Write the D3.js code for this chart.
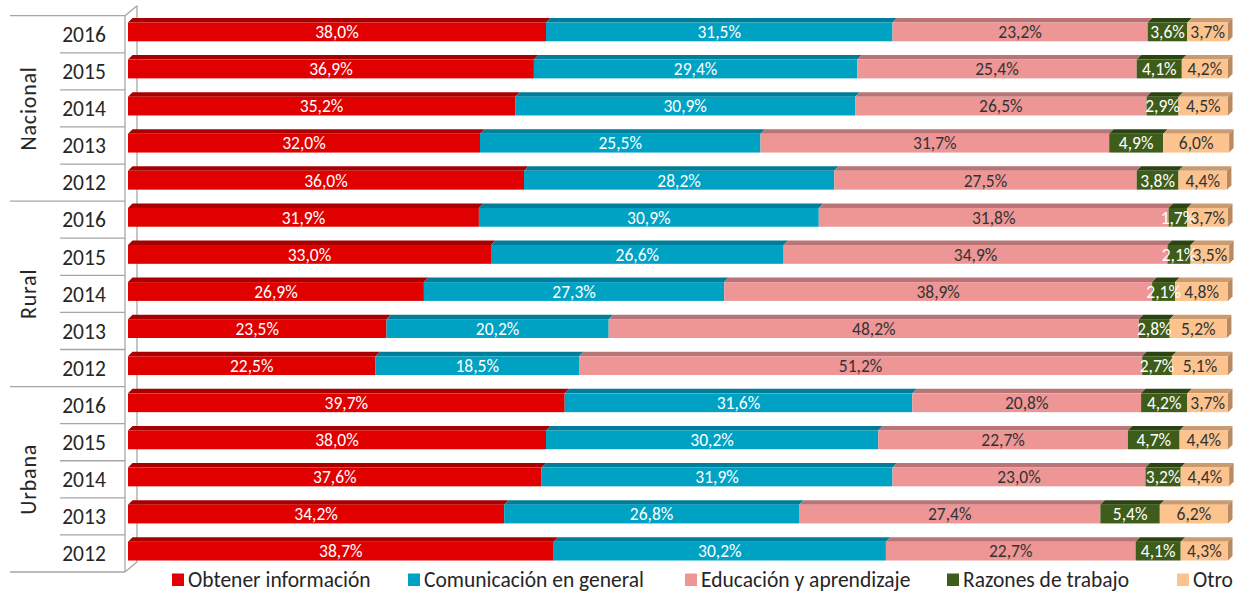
<!DOCTYPE html>
<html>
<head>
<meta charset="utf-8">
<script src="https://cdn.jsdelivr.net/npm/d3@7"></script>
<style>
  body { margin: 0; background: #fff; }
  text { font-family: Carlito, "Open Sans", sans-serif; }
</style>
</head>
<body>
<script>
// data
var groups = ["Nacional", "Rural", "Urbana"];
var years = ["2016", "2015", "2014", "2013", "2012"];
var seriesNames = ["Obtener información", "Comunicación en general", "Educación y aprendizaje", "Razones de trabajo", "Otro"];
var obtener      = [38.0, 36.9, 35.2, 32.0, 36.0, 31.9, 33.0, 26.9, 23.5, 22.5, 39.7, 38.0, 37.6, 34.2, 38.7];
var comunicacion = [31.5, 29.4, 30.9, 25.5, 28.2, 30.9, 26.6, 27.3, 20.2, 18.5, 31.6, 30.2, 31.9, 26.8, 30.2];
var educacion    = [23.2, 25.4, 26.5, 31.7, 27.5, 31.8, 34.9, 38.9, 48.2, 51.2, 20.8, 22.7, 23.0, 27.4, 22.7];
var trabajo      = [3.6, 4.1, 2.9, 4.9, 3.8, 1.7, 2.1, 2.1, 2.8, 2.7, 4.2, 4.7, 3.2, 5.4, 4.1];
var otro         = [3.7, 4.2, 4.5, 6.0, 4.4, 3.7, 3.5, 4.8, 5.2, 5.1, 3.7, 4.4, 4.4, 6.2, 4.3];

var colors = ["#e00000", "#00a2c4", "#ee9696", "#3e5c1a", "#fcc38e"];
var topColors = ["#a80000", "#007d98", "#b97575", "#2c4312", "#c99b6f"];
var sideColor = "#b98a62";
var labelColors = ["#fff", "#fff", "#333", "#fff", "#333"];

main();

function main() {
  setupCanvasSize();
  appendSvg("body");
  buildRows();
  setupScales();
  drawAxisFrame();
  drawBars();
  drawLegend();
}

function setupCanvasSize() {
  width = 1236;
  height = 592;
  depth = 4.5;
}

function appendSvg(domElement) {
  svg = d3.select(domElement).append("svg")
    .attr("width", width)
    .attr("height", height);
}

function buildRows() {
  var values = [obtener, comunicacion, educacion, trabajo, otro];
  rows = [];
  groups.forEach(function (g, gi) {
    years.forEach(function (yr, yi) {
      var i = gi * years.length + yi;
      var x0 = 0;
      var segs = values.map(function (arr, s) {
        var seg = { s: s, x0: x0, x1: x0 + arr[i], v: arr[i] };
        x0 += arr[i];
        return seg;
      });
      rows.push({ key: g + "-" + yr, group: g, year: yr, segs: segs });
    });
  });
}

function setupScales() {
  x = d3.scaleLinear().domain([0, 100]).range([128, 1228]);
  y = d3.scaleBand().domain(rows.map(function (d) { return d.key; }))
    .range([15.7, 572]).paddingInner(0).paddingOuter(0);
}

function drawAxisFrame() {
  var g = svg.append("g").attr("stroke", "#a6a6a6").attr("stroke-width", 1.3).attr("fill", "none");
  var top = y.range()[0], bottom = y.range()[1];
  // wall lines
  g.append("line").attr("x1", 125).attr("x2", 125).attr("y1", top).attr("y2", bottom);
  g.append("line").attr("x1", 137).attr("x2", 137).attr("y1", top - 10).attr("y2", bottom - 10);
  g.append("line").attr("x1", 125).attr("x2", 137).attr("y1", top).attr("y2", top - 10);
  g.append("line").attr("x1", 125).attr("x2", 137).attr("y1", bottom).attr("y2", bottom - 10);

  // category separators
  rows.forEach(function (d, i) {
    var yy = y(d.key);
    var isGroup = i % years.length === 0;
    g.append("line").attr("x1", isGroup ? 10 : 60).attr("x2", 125).attr("y1", yy).attr("y2", yy);
  });
  g.append("line").attr("x1", 10).attr("x2", 125).attr("y1", bottom).attr("y2", bottom);

  // year labels
  svg.append("g").selectAll("text")
    .data(rows)
    .enter().append("text")
    .attr("x", 84)
    .attr("y", function (d) { return y(d.key) + y.bandwidth() / 2; })
    .attr("dy", "0.36em")
    .attr("text-anchor", "middle")
    .style("font-size", "21.5px")
    .style("fill", "#262626")
    .text(function (d) { return d.year; });

  // group labels
  var span = y.bandwidth() * years.length;
  svg.append("g").selectAll("text")
    .data(groups)
    .enter().append("text")
    .attr("transform", function (d, i) {
      return "translate(28," + (y.range()[0] + span * i + span / 2) + ") rotate(-90)";
    })
    .attr("dy", "0.36em")
    .attr("text-anchor", "middle")
    .style("font-size", "22px")
    .style("letter-spacing", "0.8px")
    .style("fill", "#262626")
    .text(function (d) { return d; });
}

function drawBars() {
  var frontOff = 6.8, frontH = 18.8;
  var bars = svg.append("g").selectAll("g")
    .data(rows)
    .enter().append("g")
    .attr("transform", function (d) { return "translate(0," + (y(d.key) + frontOff) + ")"; });

  // top faces
  bars.selectAll("path.top")
    .data(function (d) { return d.segs; })
    .enter().append("path")
    .attr("class", "top")
    .attr("fill", function (d) { return topColors[d.s]; })
    .attr("d", function (d) {
      var a = x(d.x0), b = x(d.x1);
      return "M" + a + ",0L" + (a + depth) + "," + (-depth) + "L" + (b + depth) + "," + (-depth) + "L" + b + ",0Z";
    });

  // right side face
  bars.append("path")
    .attr("fill", sideColor)
    .attr("d", function (d) {
      var b = x(d.segs[d.segs.length - 1].x1);
      return "M" + b + ",0L" + (b + depth) + "," + (-depth) + "L" + (b + depth) + "," + (frontH - depth) + "L" + b + "," + frontH + "Z";
    });

  // front faces
  bars.selectAll("rect")
    .data(function (d) { return d.segs; })
    .enter().append("rect")
    .attr("x", function (d) { return x(d.x0); })
    .attr("width", function (d) { return x(d.x1) - x(d.x0); })
    .attr("y", 0)
    .attr("height", frontH)
    .attr("fill", function (d) { return colors[d.s]; });

  // value labels
  bars.selectAll("text")
    .data(function (d) { return d.segs; })
    .enter().append("text")
    .attr("x", function (d) { return (x(d.x0) + x(d.x1)) / 2; })
    .attr("y", frontH / 2)
    .attr("dy", "0.36em")
    .attr("text-anchor", "middle")
    .style("font-size", "17.5px")
    .style("fill", function (d) { return labelColors[d.s]; })
    .text(function (d) { return d3.format(".1f")(d.v).replace(".", ",") + "%"; });
}

function drawLegend() {
  var legendX = [172, 408, 685, 947, 1177];
  var leg = svg.append("g").selectAll("g")
    .data(seriesNames)
    .enter().append("g")
    .attr("transform", function (d, i) { return "translate(" + legendX[i] + ",579)"; });
  leg.append("rect")
    .attr("x", 0).attr("y", -5.5)
    .attr("width", 12).attr("height", 12.5)
    .attr("fill", function (d, i) { return colors[i]; });
  leg.append("text")
    .attr("x", 16)
    .attr("dy", "0.36em")
    .style("font-size", "21.5px")
    .style("fill", "#262626")
    .text(function (d) { return d; });
}
</script>
</body>
</html>
